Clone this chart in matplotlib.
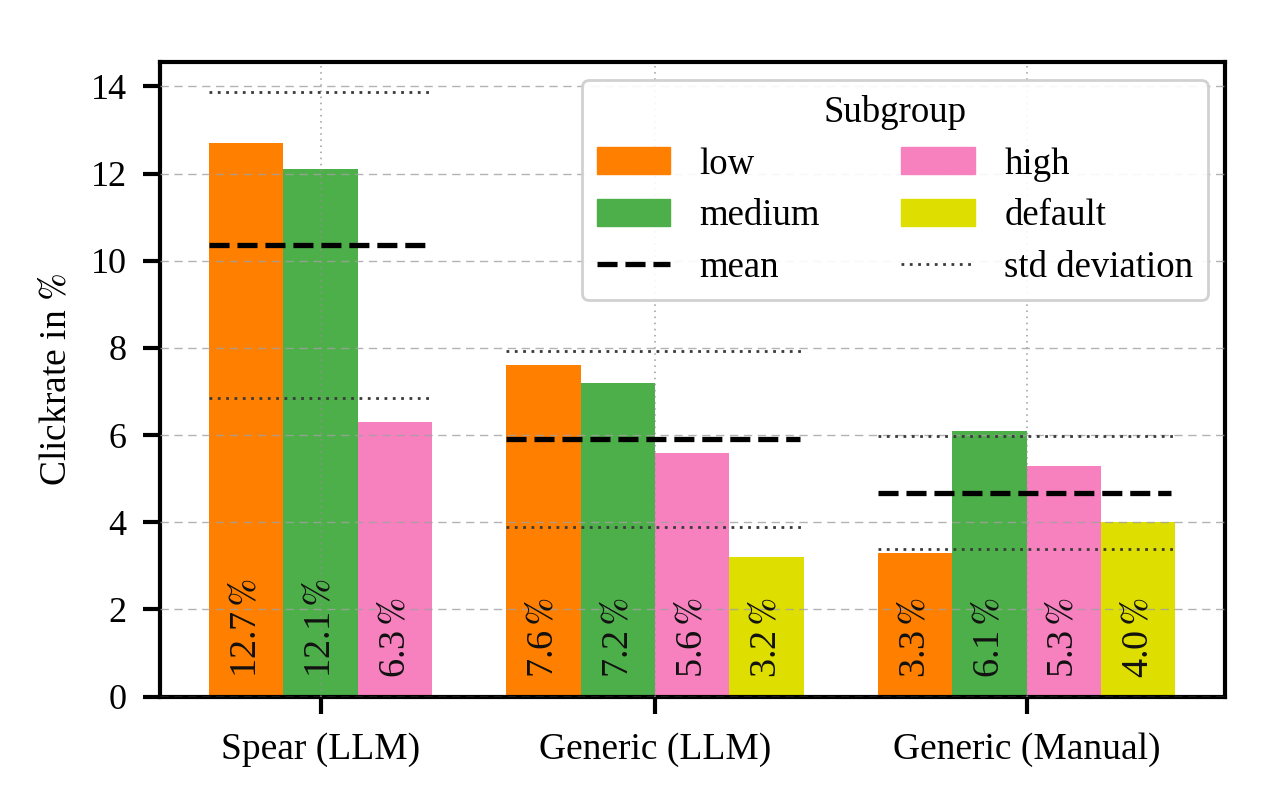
import numpy as np
import matplotlib
matplotlib.use("Agg")
import matplotlib.pyplot as plt
from matplotlib.patches import Patch
from matplotlib.lines import Line2D

groups = ["Spear (LLM)", "Generic (LLM)", "Generic (Manual)"]
subgroups = ["low", "medium", "high", "default"]
low = [12.7, 7.6, 3.3]
medium = [12.1, 7.2, 6.1]
high = [6.3, 5.6, 5.3]
default = [None, 3.2, 4.0]
means = [10.37, 5.90, 4.67]
std_upper = [13.88, 7.93, 5.97]
std_lower = [6.86, 3.90, 3.39]
y_ticks = [0, 2, 4, 6, 8, 10, 12, 14]

colors = {"low": "#ff7f00", "medium": "#4daf4a", "high": "#f781bf", "default": "#dede00"}

plt.rcParams["font.family"] = ["Liberation Serif", "DejaVu Serif"]
plt.rcParams["mathtext.fontset"] = "stix"

mean_ls = (0, (3.8, 1.5))
std_ls = (0, (1, 2.0))

fig = plt.figure(figsize=(12.8, 7.89), dpi=100)
ax = fig.add_axes([0.125, 0.117, 0.832, 0.804])

series = {"low": low, "medium": medium, "high": high, "default": default}
width = 1.0
gap = 1.0
start = 0.0
centers = []
for gi, g in enumerate(groups):
    vals = [(s, series[s][gi]) for s in subgroups if series[s][gi] is not None]
    x0 = start
    for k, (s, v) in enumerate(vals):
        x = x0 + k * width
        ax.bar(x, v, width=width, align="edge", color=colors[s], zorder=1)
        ax.text(x + width / 2, 0.42, f"{v:.1f}$\\,\\%$", rotation=90,
                ha="center", va="bottom", fontsize=27.5, color="#111111", zorder=4)
    x1 = x0 + len(vals) * width
    centers.append((x0 + x1) / 2)
    ax.hlines(means[gi], x0, x1 - 0.05, colors="black", linestyles=mean_ls, lw=3.8, zorder=5)
    ax.hlines([std_upper[gi], std_lower[gi]], x0, x1, colors="#3a3a3a",
              linestyles=std_ls, lw=2.0, zorder=5)
    start = x1 + gap

ax.set_xlim(-0.66, start - gap + 0.67)
ax.set_ylim(0, 14.55)
ax.set_xticks(centers)
ax.set_xticklabels(groups, fontsize=27)
ax.set_yticks(y_ticks)
ax.set_yticklabels([str(t) for t in y_ticks], fontsize=26)
ax.set_ylabel("Clickrate in $\\%$", fontsize=27, labelpad=12)

ax.set_axisbelow(False)
ax.grid(axis="y", linestyle=(0, (6, 4)), color="#a0a0a0", lw=1.0, alpha=0.8, zorder=3)
ax.grid(axis="x", linestyle=(0, (1, 3)), color="#909090", lw=1.1, alpha=0.9, zorder=3)

for sp in ax.spines.values():
    sp.set_linewidth(3.0)
ax.tick_params(axis="both", direction="out", length=12, width=3.0)
ax.tick_params(axis="y", pad=12)
ax.tick_params(axis="x", pad=14)

handles = [
    Patch(color=colors["low"], label="low"),
    Patch(color=colors["medium"], label="medium"),
    Line2D([], [], color="black", ls=mean_ls, lw=3.8, label="mean"),
    Patch(color=colors["high"], label="high"),
    Patch(color=colors["default"], label="default"),
    Line2D([], [], color="#3a3a3a", ls=std_ls, lw=2.0, label="std deviation"),
]
leg = ax.legend(handles=handles, ncol=2, title="Subgroup", fontsize=26.5, title_fontsize=26.5,
                loc="upper right", bbox_to_anchor=(0.984, 0.972), borderaxespad=0,
                handlelength=2.0, handleheight=0.75, handletextpad=0.8, columnspacing=2.2,
                labelspacing=0.47, borderpad=0.4, framealpha=0.9)
leg.get_frame().set_linewidth(2.0)
leg.get_frame().set_edgecolor("#cccccc")
leg.set_zorder(10)

fig.savefig("out.png", dpi=100)
